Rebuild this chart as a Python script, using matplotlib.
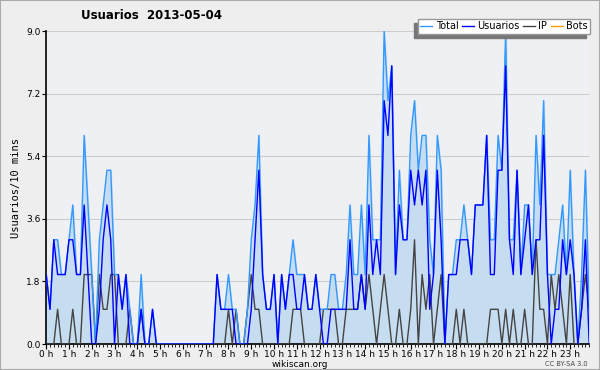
import matplotlib
matplotlib.use("Agg")
import matplotlib.pyplot as plt
import numpy as np
from matplotlib.patches import Rectangle

# %%
title = "Usuarios  2013-05-04"
hour_labels = [f"{h} h" for h in range(24)]
y_ticks = [0.0, 1.8, 3.6, 5.4, 7.2, 9.0]

# one value every 10 minutes, 6 per row = 1 hour per row
usuarios = [
    2, 1, 3, 2, 2, 2,  # 0 h
    3, 3, 2, 2, 4, 2,  # 1 h
    0, 0, 1, 3, 4, 3,  # 2 h
    0, 2, 1, 2, 0, 0,  # 3 h
    0, 1, 0, 0, 1, 0,  # 4 h
    0, 0, 0, 0, 0, 0,  # 5 h
    0, 0, 0, 0, 0, 0,  # 6 h
    0, 0, 0, 2, 1, 1,  # 7 h
    1, 1, 0, 0, 0, 0,  # 8 h
    1, 3, 5, 2, 1, 1,  # 9 h
    2, 0, 2, 1, 2, 2,  # 10 h
    1, 1, 2, 1, 1, 2,  # 11 h
    1, 0, 0, 1, 1, 1,  # 12 h
    1, 1, 3, 1, 1, 2,  # 13 h
    1, 4, 2, 3, 2, 7,  # 14 h
    6, 8, 2, 4, 3, 3,  # 15 h
    5, 4, 5, 4, 5, 1,  # 16 h
    2, 5, 3, 0, 2, 2,  # 17 h
    2, 3, 3, 3, 2, 4,  # 18 h
    4, 4, 6, 2, 2, 5,  # 19 h
    5, 8, 3, 2, 5, 2,  # 20 h
    3, 4, 2, 3, 3, 6,  # 21 h
    2, 0, 1, 1, 3, 2,  # 22 h
    3, 2, 0, 1, 3, 0,  # 23 h
]
ip = [
    0, 0, 0, 1, 0, 0,
    0, 1, 0, 0, 2, 2,
    2, 0, 2, 1, 1, 2,
    2, 0, 0, 0, 1, 0,
    0, 1, 0, 0, 0, 0,
    0, 0, 0, 0, 0, 0,
    0, 0, 0, 0, 0, 0,
    0, 0, 0, 0, 0, 0,
    1, 0, 1, 0, 0, 1,
    2, 1, 1, 0, 0, 0,
    0, 0, 0, 0, 0, 1,
    1, 1, 0, 0, 0, 0,
    0, 1, 1, 1, 1, 0,
    0, 1, 1, 1, 1, 2,
    1, 2, 1, 0, 1, 2,
    1, 0, 0, 1, 0, 0,
    1, 3, 0, 2, 1, 2,
    0, 1, 2, 0, 0, 0,
    1, 0, 1, 0, 0, 0,
    0, 0, 0, 1, 1, 1,
    0, 1, 0, 1, 0, 0,
    1, 0, 0, 3, 1, 1,
    0, 2, 1, 2, 1, 0,
    2, 0, 0, 1, 2, 1,
]
total = [
    2, 1, 3, 3, 2, 2,
    3, 4, 2, 2, 6, 4,
    2, 0, 3, 4, 5, 5,
    2, 2, 1, 2, 1, 0,
    0, 2, 0, 0, 1, 0,
    0, 0, 0, 0, 0, 0,
    0, 0, 0, 0, 0, 0,
    0, 0, 0, 2, 1, 1,
    2, 1, 1, 0, 0, 1,
    3, 4, 6, 2, 1, 1,
    2, 0, 2, 1, 2, 3,
    2, 2, 2, 1, 1, 2,
    1, 1, 1, 2, 2, 1,
    1, 2, 4, 2, 2, 4,
    2, 6, 3, 3, 3, 9,
    7, 8, 2, 5, 3, 3,
    6, 7, 5, 6, 6, 3,
    2, 6, 5, 0, 2, 2,
    3, 3, 4, 3, 2, 4,
    4, 4, 6, 3, 3, 6,
    5, 9, 3, 3, 5, 2,
    4, 4, 2, 6, 4, 7,
    2, 2, 2, 3, 4, 2,
    5, 2, 0, 2, 5, 1,
]
bots = [0] * 144

# %%
t = np.arange(len(total))

fig = plt.figure(figsize=(6, 3.7), dpi=100, facecolor="#eeeeee")
ax = fig.add_axes([0.077, 0.07, 0.905, 0.846])
ax.set_facecolor("#eef0f3")

ax.fill_between(t, total, color="#c6dcf0", zorder=1)
ax.plot(t, bots, color="#ff9900", lw=1, label="Bots", zorder=2)
ax.plot(t, ip, color="#444444", lw=1, label="IP", zorder=3)
ax.plot(t, total, color="#3399ff", lw=1, label="Total", zorder=4)
ax.plot(t, usuarios, color="#0000ff", lw=1, label="Usuarios", zorder=5)

ax.set_xlim(0, 143)
ax.set_ylim(0, 9)
ax.set_yticks(y_ticks)
ax.set_yticklabels([f"{v:.1f}" for v in y_ticks])
ax.set_xticks(np.arange(0, 144, 6))
ax.set_xticklabels(hour_labels)
ax.set_xticks(np.arange(0, 144, 1), minor=True)
ax.tick_params(axis="x", which="major", length=3.5, width=0.8, pad=0.5, labelsize=6.5)
ax.tick_params(axis="x", which="minor", length=2.5, width=0.6)
ax.tick_params(axis="y", length=3, width=0.8, pad=1, labelsize=6.5)
ax.grid(axis="y", color="#cccccc", lw=0.8)
ax.set_axisbelow(True)
for side in ["top", "right"]:
    ax.spines[side].set_visible(False)
ax.spines["left"].set_linewidth(1.2)
ax.spines["bottom"].set_linewidth(1.2)

ax.set_ylabel("Usuarios/10 mins", family="DejaVu Sans Mono", fontsize=7.5, labelpad=4)
fig.text(0.252, 0.957, title, fontsize=8.5, fontweight="bold", ha="center", va="center")
fig.text(0.5, 0.016, "wikiscan.org", fontsize=6.5, ha="center", va="center")
fig.text(0.98, 0.016, "CC BY-SA 3.0", fontsize=4.8, ha="right", va="center", color="#444444")

handles, labels = ax.get_legend_handles_labels()
order = [labels.index(n) for n in ["Total", "Usuarios", "IP", "Bots"]]
leg = fig.legend(
    [handles[i] for i in order],
    [labels[i] for i in order],
    loc="upper right",
    bbox_to_anchor=(0.992, 0.962),
    ncol=4,
    fontsize=7,
    handlelength=1.2,
    handletextpad=0.35,
    columnspacing=0.4,
    borderpad=0.25,
    fancybox=False,
    shadow={"color": "#777777", "alpha": 1, "ox": -3, "oy": -3},
    framealpha=1,
    edgecolor="#999999",
)
leg.set_zorder(10)

fig.patches.append(
    Rectangle((0, 0), 1, 1, transform=fig.transFigure, fill=False, edgecolor="#aaaaaa", lw=1.5)
)

fig.savefig("out.png", dpi=100, facecolor=fig.get_facecolor())
